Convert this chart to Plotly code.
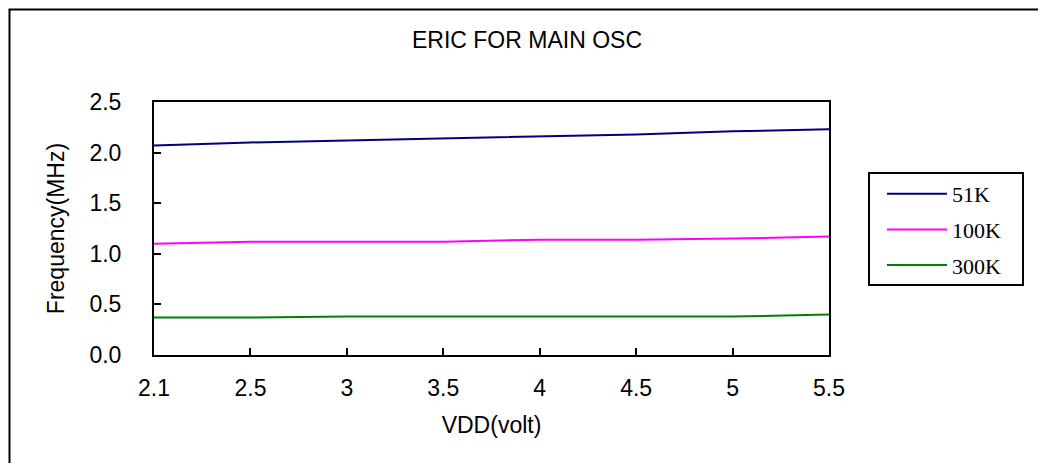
import plotly.graph_objects as go

# Data
vdd = ["2.1", "2.5", "3", "3.5", "4", "4.5", "5", "5.5"]
freq_51k = [2.07, 2.10, 2.12, 2.14, 2.16, 2.18, 2.21, 2.23]
freq_100k = [1.10, 1.12, 1.12, 1.12, 1.14, 1.14, 1.15, 1.17]
freq_300k = [0.37, 0.37, 0.38, 0.38, 0.38, 0.38, 0.38, 0.40]

series = [
    ("51K", freq_51k, "#000080"),
    ("100K", freq_100k, "#FF00FF"),
    ("300K", freq_300k, "#008000"),
]

# the page body adds an 8px margin, so the figure is drawn 8px smaller
OFF = 8
W, H = 1046 - OFF, 463 - OFF
# plot area in reference pixels
L, R, T, B = 154, 829, 102, 355

fig = go.Figure()
for name, vals, color in series:
    fig.add_trace(go.Scatter(
        x=vdd, y=vals, name=name, mode="lines",
        line=dict(color=color, width=2),
        legendgroup=name,
    ))

def px_x(p):
    return (p - L) / (R - L)

def px_y(p):
    return (B - p) / (B - T)

sans = "Liberation Sans, Arial, sans-serif"
fsize = 23

fig.update_layout(
    width=W, height=H,
    margin=dict(l=L - OFF, r=1046 - R, t=T - OFF, b=463 - B),
    paper_bgcolor="white",
    plot_bgcolor="white",
    font=dict(family=sans, size=fsize, color="black"),
    title=dict(text="ERIC FOR MAIN OSC", x=0.5, xanchor="center",
               y=1 - (40 - OFF) / H, yanchor="middle",
               font=dict(family=sans, size=fsize, color="black")),
    showlegend=True,
    legend=dict(
        x=px_x(882), y=px_y(173), xanchor="left", yanchor="top",
        font=dict(family="Liberation Serif, Times New Roman, serif", size=22),
        bgcolor="rgba(0,0,0,0)", borderwidth=0,
        traceorder="grouped", tracegroupgap=4, itemwidth=60,
    ),
    shapes=[
        # legend box
        dict(type="rect", xref="paper", yref="paper",
             x0=px_x(869), x1=px_x(1023), y0=px_y(285), y1=px_y(173),
             line=dict(color="black", width=2)),
        # chart outer border
        dict(type="rect", xref="paper", yref="paper",
             x0=px_x(9.5), x1=px_x(1060), y0=px_y(480), y1=px_y(9.5),
             line=dict(color="black", width=2)),
    ],
)

fig.update_xaxes(
    type="category", range=[0, len(vdd) - 1],
    showline=True, linecolor="black", linewidth=2, mirror=True,
    ticks="inside", ticklen=7, tickcolor="black", tickwidth=2,
    showgrid=False, zeroline=False,
    ticklabelstandoff=11,
    title=dict(text="VDD(volt)", standoff=17, font=dict(size=fsize)),
)
fig.update_yaxes(
    range=[0, 2.5], dtick=0.5, tickformat=".1f",
    showline=True, linecolor="black", linewidth=2, mirror=True,
    ticks="inside", ticklen=7, tickcolor="black", tickwidth=2,
    showgrid=False, zeroline=False,
    ticklabelstandoff=26,
    title=dict(text="Frequency(MHz)", standoff=18, font=dict(size=fsize)),
)

fig.write_html("out.html")
